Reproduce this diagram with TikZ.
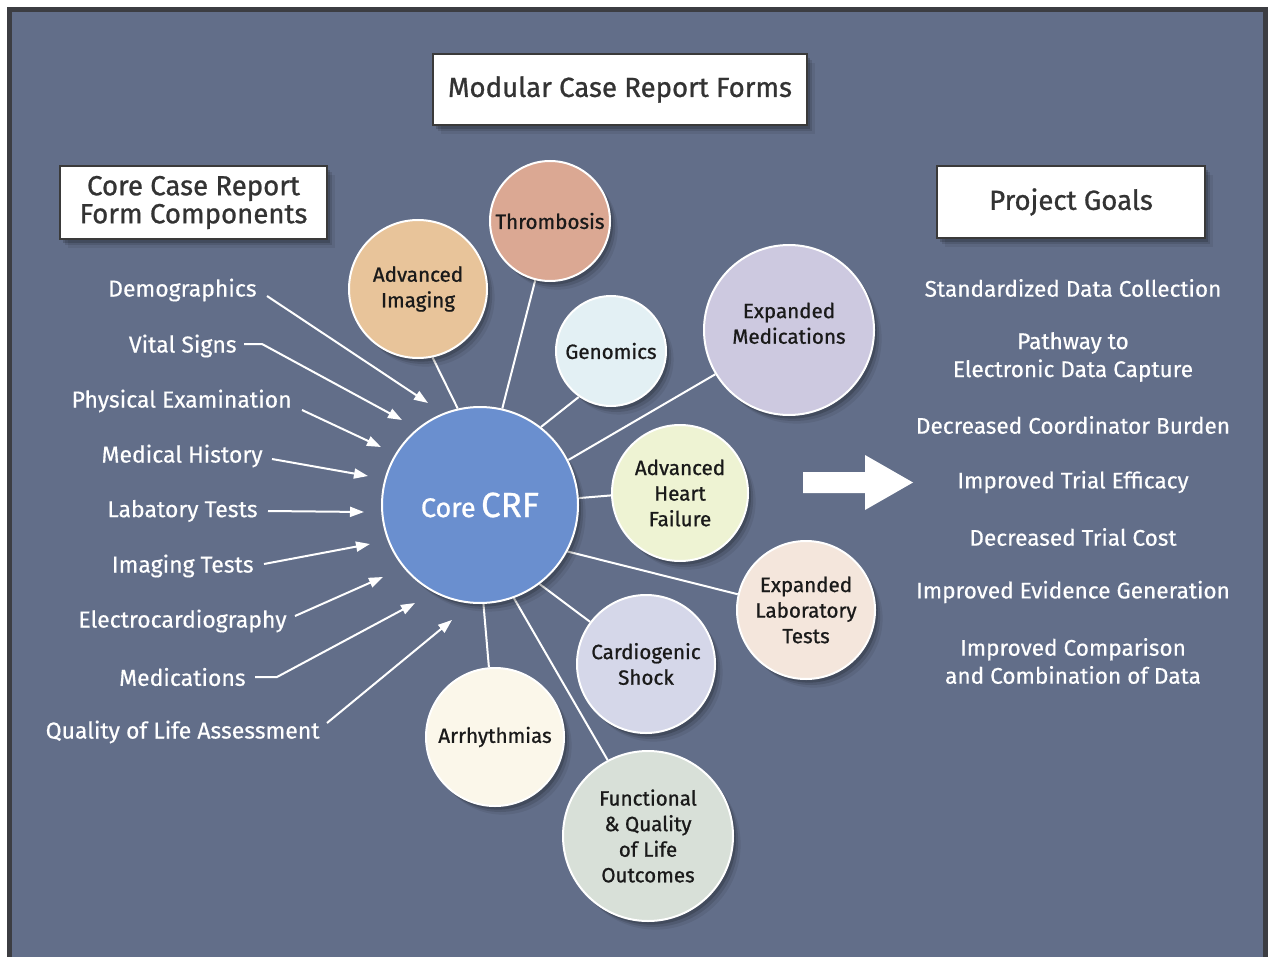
\documentclass[tikz,border=0pt]{standalone}
\usepackage{fontspec}
\setmainfont{Fira Sans}
\newfontfamily\medfont{Fira Sans}[FakeBold=0.9]
\newfontfamily\lightbold{Fira Sans}[FakeBold=0.4]
\usetikzlibrary{arrows.meta,shadows}
\definecolor{bgcol}{HTML}{626E89}
\definecolor{framecol}{HTML}{3C3D42}
\definecolor{boxline}{HTML}{3A3A3A}
\definecolor{textdark}{HTML}{333333}
\definecolor{circtext}{HTML}{1A1A1A}
\definecolor{ccore}{HTML}{6A8FCF}
\definecolor{cthromb}{HTML}{DBA893}
\definecolor{cadvimg}{HTML}{E8C49A}
\definecolor{cgenom}{HTML}{E3F0F4}
\definecolor{cexpmed}{HTML}{CDC9E0}
\definecolor{cahf}{HTML}{EEF3D3}
\definecolor{cexplab}{HTML}{F4E6DC}
\definecolor{ccardio}{HTML}{D5D7E9}
\definecolor{carrhy}{HTML}{FBF7EA}
\definecolor{cfunc}{HTML}{D8E0D8}
\pgfdeclarelayer{bglayer}
\pgfdeclarelayer{linelayer}
\pgfsetlayers{bglayer,linelayer,main}
\tikzset{
  softshadow/.style={
    drop shadow={shadow xshift=1.5pt,shadow yshift=-1.8pt,opacity=0.16,fill=black},
    drop shadow={shadow xshift=2.6pt,shadow yshift=-3pt,opacity=0.11,fill=black},
    drop shadow={shadow xshift=3.8pt,shadow yshift=-4.3pt,opacity=0.07,fill=black}},
  bubble/.style={circle,draw=white,line width=1pt,text=circtext,align=center,inner sep=0pt,
    font=\medfont\fontsize{10.3}{12.8}\selectfont,softshadow},
  titlebox/.style={rectangle,draw=boxline,line width=1pt,fill=white,text=textdark,align=center,
    inner sep=0pt,font=\medfont\fontsize{13.8}{14}\selectfont,softshadow},
  lbl/.style={anchor=east,inner sep=0pt,text=white,font=\lightbold\fontsize{11.5}{13}\selectfont},
  goal/.style={inner sep=0pt,text=white,align=center,font=\lightbold\fontsize{11.3}{14}\selectfont},
  conn/.style={draw=white,line width=1pt},
  arr/.style={draw=white,line width=1pt,-{Triangle[length=7pt,width=5pt]}}
}
\begin{document}
\begin{tikzpicture}[x=0.5pt,y=-0.5pt]
\useasboundingbox (0,0) rectangle (1268,957);
\begin{pgfonlayer}{bglayer}
  \fill[white] (0,0) rectangle (1268,957);
  \fill[framecol] (7,7) rectangle (1268,957);
  \fill[bgcol] (12,12) rectangle (1263,957);
\end{pgfonlayer}

% title boxes
\node[titlebox,minimum width=187pt,minimum height=35.5pt] (modular) at (620,89.5) {Modular Case Report Forms};
\node[titlebox,minimum width=133.5pt,minimum height=36.5pt] (corecomp) at (193.5,202.5) {Core Case Report\\Form Components};
\node[titlebox,minimum width=134pt,minimum height=36pt] (goals) at (1071,202) {Project Goals};

% bubbles
\node[bubble,fill=ccore,minimum size=98pt,text=white] (core) at (480,505)
  {{\fontsize{13.5}{14}\selectfont Core} {\fontsize{17.5}{18}\selectfont CRF}};
\node[bubble,fill=cthromb,minimum size=60pt] (thromb) at (550,221) {Thrombosis};
\node[bubble,fill=cadvimg,minimum size=69pt] (advimg) at (418,289) {Advanced\\Imaging};
\node[bubble,fill=cgenom,minimum size=55pt] (genom) at (611,351) {Genomics};
\node[bubble,fill=cexpmed,minimum size=85pt] (expmed) at (789,330) {Expanded\\Medications\\[-6pt]\mbox{}};
\node[bubble,fill=cahf,minimum size=68pt] (ahf) at (680,493) {Advanced\\Heart\\Failure};
\node[bubble,fill=cexplab,minimum size=69pt] (explab) at (806,610) {Expanded\\Laboratory\\Tests};
\node[bubble,fill=ccardio,minimum size=69pt] (cardio) at (646,664) {Cardiogenic\\Shock};
\node[bubble,fill=carrhy,minimum size=69pt] (arrhy) at (495,737) {Arrhythmias};
\node[bubble,fill=cfunc,minimum size=85pt] (func) at (648,836) {Functional\\\& Quality\\of Life\\Outcomes};

\begin{pgfonlayer}{linelayer}
  \draw[conn] (core.77) -- (thromb.256);
  \draw[conn] (core.103) -- (advimg.282);
  \draw[conn] (core.52) -- (genom.235);
  \draw[conn] (core.27) -- (expmed.211);
  \draw[conn] (core.4.6) -- (ahf.182.6);
  \draw[conn] (core.-28) -- (explab.167);
  \draw[conn] (core.-53) -- (cardio.143);
  \draw[conn] (core.-88) -- (arrhy.95);
  \draw[conn] (core.-70) -- (func.118);
\end{pgfonlayer}

% left labels
\node[lbl] (demo) at (257,290) {Demographics};
\node[lbl] (vital) at (237,346) {Vital Signs};
\node[lbl] (phys) at (292,401) {Physical Examination};
\node[lbl] (medhist) at (263,456) {Medical History};
\node[lbl] (labt) at (258,511) {Labatory Tests};
\node[lbl] (imgt) at (254,566) {Imaging Tests};
\node[lbl] (ecg) at (287,621) {Electrocardiography};
\node[lbl] (meds) at (246,677) {Medications};
\node[lbl] (qol) at (320,732) {Quality of Life Assessment};

\coordinate (t1) at (428,403);
\coordinate (t2) at (402,420);
\coordinate (t3) at (381,447);
\coordinate (t4) at (368,476);
\coordinate (t5) at (364,512);
\coordinate (t6) at (370,544);
\coordinate (t7) at (383,577);
\coordinate (t8) at (415,603);
\coordinate (t9) at (452,620);

\draw[arr] ([shift={(10,6)}]demo.east) -- (t1);
\draw[arr] ([shift={(7,-2)}]vital.east) -- ++(18,0) -- (t2);
\draw[arr] ([shift={(10,9)}]phys.east) -- (t3);
\draw[arr] ([shift={(9,3)}]medhist.east) -- (t4);
\draw[arr] ([shift={(10,0)}]labt.east) -- (t5);
\draw[arr] ([shift={(10,-2)}]imgt.east) -- (t6);
\draw[arr] ([shift={(8,-5)}]ecg.east) -- (t7);
\draw[arr] ([shift={(9,0)}]meds.east) -- ++(22,0) -- (t8);
\draw[arr] ([shift={(7,-9)}]qol.east) -- (t9);

% big arrow
\fill[white] (803,472) -- (865,472) -- (865,455) -- (913,482.5) -- (865,510) -- (865,493) -- (803,493) -- cycle;

% goals
\node[goal] (g1) at (1073,288) {Standardized Data Collection};
\node[goal] (g2) at (1073,357) {Pathway to\\Electronic Data Capture};
\node[goal] (g3) at (1073,425) {Decreased Coordinator Burden};
\node[goal] (g4) at (1073,482) {Improved Trial Efficacy};
\node[goal] (g5) at (1073,537) {Decreased Trial Cost};
\node[goal] (g6) at (1073,592) {Improved Evidence Generation};
\node[goal] (g7) at (1073,661) {Improved Comparison\\and Combination of Data};
\end{tikzpicture}
\end{document}
